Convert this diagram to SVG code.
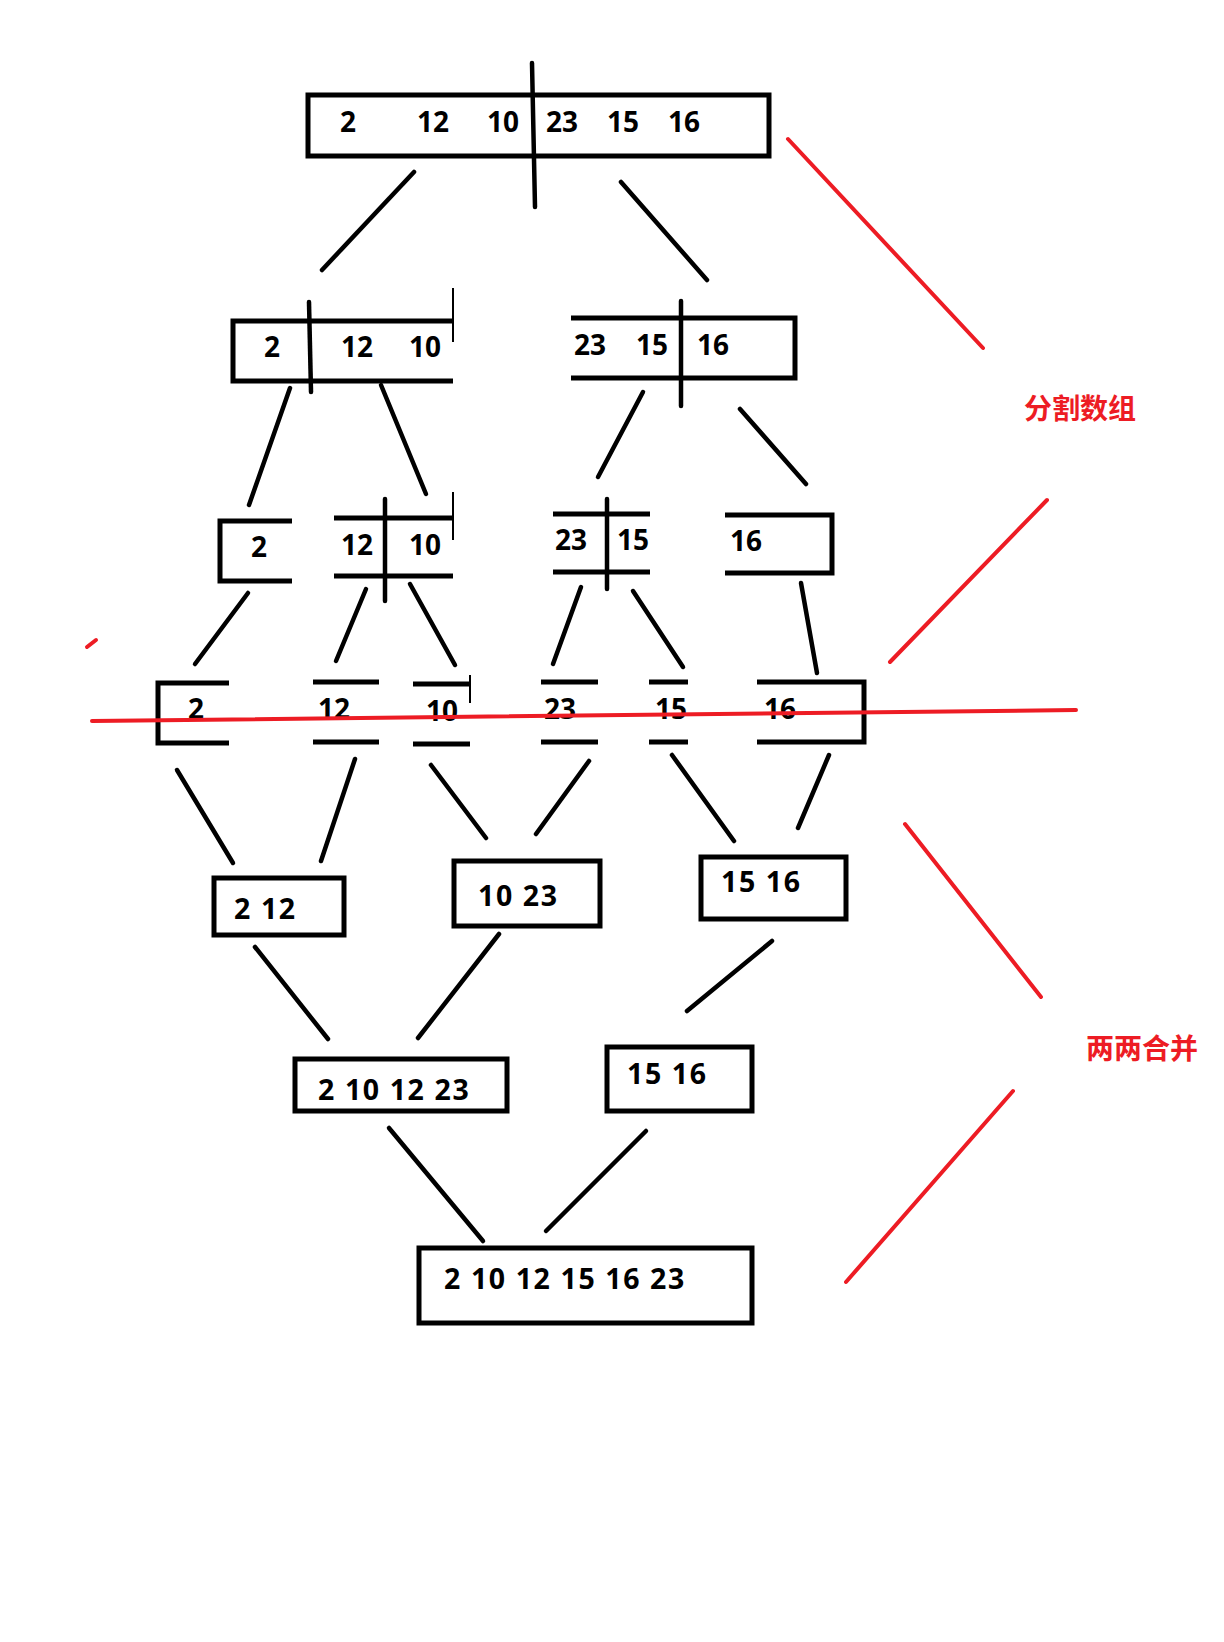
<svg xmlns="http://www.w3.org/2000/svg" width="1224" height="1642" viewBox="0 0 1224 1642">
<style>
.b{fill:none;stroke:#000;stroke-width:5}
.c{stroke:#000;stroke-width:4.5;stroke-linecap:round;fill:none}
.t{stroke:#000;stroke-width:2;fill:none}
.r{stroke:#ED1C24;stroke-width:4;stroke-linecap:round;fill:none}
.n{font-family:"Open Sans","Noto Sans",sans-serif;font-weight:bold;font-size:28px;fill:#000}
.m{letter-spacing:1.6px;font-size:28.5px}
.z{font-family:"Noto Sans CJK SC",sans-serif;font-weight:bold;font-size:28px;fill:#ED1C24}
</style>
<rect width="1224" height="1642" fill="#fff"/>
<g id="connectors">
<line class="c" x1="414" y1="172" x2="322" y2="270"/>
<line class="c" x1="621" y1="182" x2="707" y2="280"/>
<line class="c" x1="290" y1="388" x2="249" y2="505"/>
<line class="c" x1="381" y1="385" x2="426" y2="494"/>
<line class="c" x1="643" y1="392" x2="598" y2="477"/>
<line class="c" x1="740" y1="409" x2="806" y2="484"/>
<line class="c" x1="248" y1="593" x2="195" y2="664"/>
<line class="c" x1="366" y1="589" x2="336" y2="661"/>
<line class="c" x1="410" y1="584" x2="455" y2="665"/>
<line class="c" x1="581" y1="587" x2="553" y2="664"/>
<line class="c" x1="633" y1="591" x2="683" y2="667"/>
<line class="c" x1="801" y1="583" x2="817" y2="673"/>
<line class="c" x1="177" y1="770" x2="233" y2="863"/>
<line class="c" x1="355" y1="759" x2="321" y2="861"/>
<line class="c" x1="431" y1="765" x2="486" y2="838"/>
<line class="c" x1="589" y1="761" x2="536" y2="834"/>
<line class="c" x1="672" y1="755" x2="734" y2="841"/>
<line class="c" x1="829" y1="755" x2="798" y2="828"/>
<line class="c" x1="255" y1="947" x2="328" y2="1039"/>
<line class="c" x1="499" y1="934" x2="418" y2="1038"/>
<line class="c" x1="772" y1="941" x2="687" y2="1011"/>
<line class="c" x1="389" y1="1128" x2="483" y2="1241"/>
<line class="c" x1="646" y1="1131" x2="546" y2="1231"/>
</g>
<g id="n-top">
<rect class="b" x="308" y="95" width="461" height="61"/>
<line class="c" x1="532" y1="63" x2="535" y2="207"/>
<text class="n" x="340" y="132">2</text>
<text class="n" x="417" y="132">12</text>
<text class="n" x="487" y="132">10</text>
<text class="n" x="546" y="132">23</text>
<text class="n" x="607" y="132">15</text>
<text class="n" x="668" y="132">16</text>
</g>
<g id="n-l2a">
<path class="b" d="M453,321 H233 V381 H453"/>
<line class="c" x1="309" y1="302" x2="311" y2="392"/>
<line class="t" x1="453" y1="288" x2="453" y2="342"/>
<text class="n" x="264" y="357">2</text>
<text class="n" x="341" y="357">12</text>
<text class="n" x="409" y="357">10</text>
</g>
<g id="n-l2b">
<path class="b" d="M571,318 H795 V378 H571"/>
<line class="c" x1="681" y1="301" x2="681" y2="406"/>
<text class="n" x="574" y="355">23</text>
<text class="n" x="636" y="355">15</text>
<text class="n" x="697" y="355">16</text>
</g>
<g id="n-l3a">
<path class="b" d="M292,521 H220 V581 H292"/>
<text class="n" x="251" y="557">2</text>
</g>
<g id="n-l3b">
<line class="b" x1="334" y1="518" x2="453" y2="518"/>
<line class="b" x1="334" y1="576" x2="453" y2="576"/>
<line class="c" x1="385" y1="499" x2="385" y2="601"/>
<line class="t" x1="453" y1="492" x2="453" y2="540"/>
<text class="n" x="341" y="555">12</text>
<text class="n" x="409" y="555">10</text>
</g>
<g id="n-l3c">
<line class="b" x1="553" y1="514" x2="650" y2="514"/>
<line class="b" x1="553" y1="572" x2="650" y2="572"/>
<line class="c" x1="607" y1="499" x2="607" y2="589"/>
<text class="n" x="555" y="550">23</text>
<text class="n" x="617" y="550">15</text>
</g>
<g id="n-l3d">
<path class="b" d="M725,515 H832 V573 H725"/>
<text class="n" x="730" y="551">16</text>
</g>
<g id="n-l4a">
<path class="b" d="M229,683 H158 V743 H229"/>
<text class="n" x="188" y="719">2</text>
</g>
<g id="n-l4b">
<line class="b" x1="313" y1="682" x2="379" y2="682"/>
<line class="b" x1="313" y1="742" x2="379" y2="742"/>
<text class="n" x="318" y="719">12</text>
</g>
<g id="n-l4c">
<line class="b" x1="413" y1="684" x2="470" y2="684"/>
<line class="b" x1="413" y1="744" x2="470" y2="744"/>
<line class="t" x1="470" y1="675" x2="470" y2="703"/>
<text class="n" x="426" y="721">10</text>
</g>
<g id="n-l4d">
<line class="b" x1="541" y1="682" x2="598" y2="682"/>
<line class="b" x1="541" y1="742" x2="598" y2="742"/>
<text class="n" x="544" y="719">23</text>
</g>
<g id="n-l4e">
<line class="b" x1="649" y1="682" x2="688" y2="682"/>
<line class="b" x1="649" y1="742" x2="688" y2="742"/>
<text class="n" x="655" y="719">15</text>
</g>
<g id="n-l4f">
<path class="b" d="M757,682 H864 V742 H757"/>
<text class="n" x="764" y="719">16</text>
</g>
<g id="n-l5a">
<rect class="b" x="214" y="878" width="130" height="57"/>
<text class="n m" x="234" y="919">2 12</text>
</g>
<g id="n-l5b">
<rect class="b" x="454" y="861" width="146" height="65"/>
<text class="n m" x="478" y="906">10 23</text>
</g>
<g id="n-l5c">
<rect class="b" x="701" y="857" width="145" height="62"/>
<text class="n m" x="721" y="892">15 16</text>
</g>
<g id="n-l6a">
<rect class="b" x="295" y="1059" width="212" height="52"/>
<text class="n m" x="318" y="1100">2 10 12 23</text>
</g>
<g id="n-l6b">
<rect class="b" x="607" y="1047" width="145" height="64"/>
<text class="n m" x="627" y="1084">15 16</text>
</g>
<g id="n-final">
<rect class="b" x="419" y="1248" width="333" height="75"/>
<text class="n m" x="444" y="1289">2 10 12 15 16 23</text>
</g>
<g id="annotations">
<line class="r" x1="92" y1="721" x2="1076" y2="710"/>
<line class="r" x1="87" y1="647" x2="96" y2="640"/>
<line class="r" x1="788" y1="139" x2="983" y2="348"/>
<line class="r" x1="1047" y1="500" x2="890" y2="662"/>
<line class="r" x1="905" y1="824" x2="1041" y2="997"/>
<line class="r" x1="1013" y1="1091" x2="846" y2="1282"/>
<text class="z" x="1024" y="419">分割数组</text>
<text class="z" x="1086" y="1059">两两合并</text>
</g>
</svg>
